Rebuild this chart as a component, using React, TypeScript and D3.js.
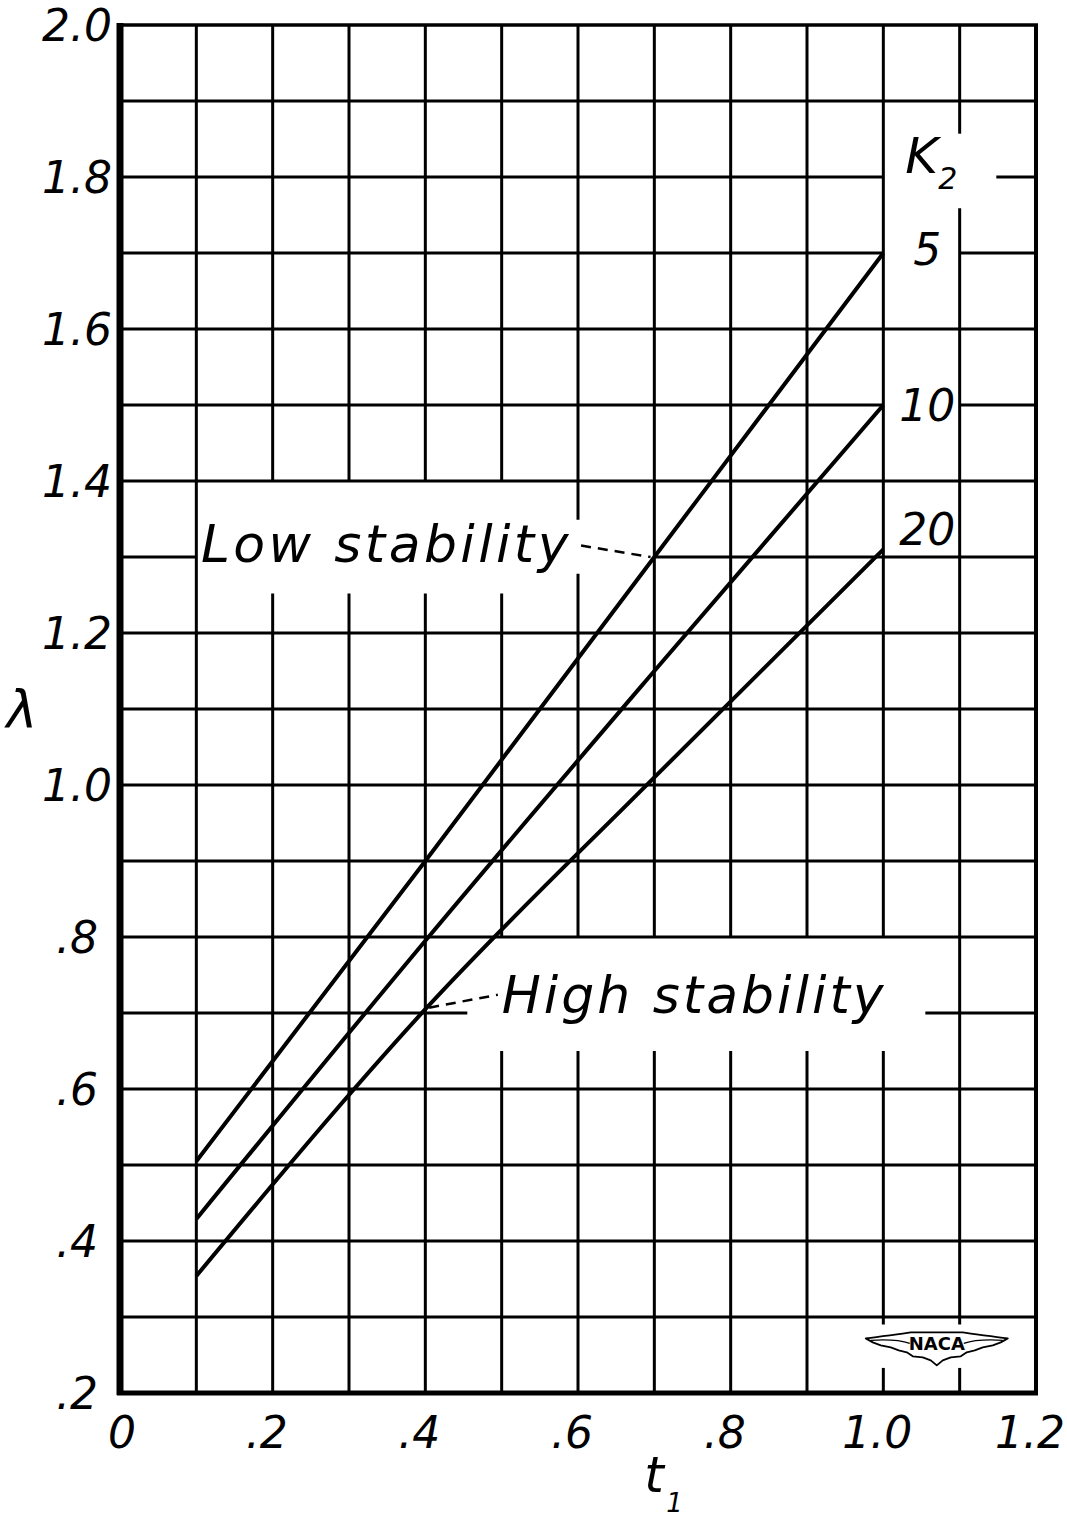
import { useEffect, useRef } from 'react'
import * as d3 from 'd3'

// ── values ───────────────────────────────────────────────────────────────────
const T1        = [0.1, 0.4, 0.7, 1.0]
const LAM_K5    = [0.505, 0.90, 1.30, 1.70]
const LAM_K10   = [0.429, 0.795, 1.15, 1.50]
const LAM_K20   = [0.354, 0.705, 1.01, 1.31]
const K2_VALUES = ['5', '10', '20']

const X_TICKS  = [0, 0.2, 0.4, 0.6, 0.8, 1.0, 1.2]
const X_LABELS = ['0', '.2', '.4', '.6', '.8', '1.0', '1.2']
const Y_TICKS  = [0.2, 0.4, 0.6, 0.8, 1.0, 1.2, 1.4, 1.6, 1.8, 2.0]
const Y_LABELS = ['.2', '.4', '.6', '.8', '1.0', '1.2', '1.4', '1.6', '1.8', '2.0']

// ── layout ───────────────────────────────────────────────────────────────────
const W = 1067
const H = 1522
const INK  = '#000'
const FONT = '"DejaVu Sans", "Liberation Sans", sans-serif'
const LABEL_NUDGE = [-4, 0, -20]   // K2 value labels, px off the line end

// breaks in the grid where lettering sits (data units)
const V_GAPS = [
  { at: [0.2, 0.3, 0.4, 0.5], from: 1.252, to: 1.4 },
  { at: [0.6], from: 1.278, to: 1.349 },
  { at: [0.5, 0.6, 0.7, 0.8, 0.9, 1.0], from: 0.65, to: 0.8 },
  { at: [1.1], from: 1.759, to: 1.857 },
  { at: [1.0, 1.1], from: 0.233, to: 0.29 },
]
const H_GAPS = [
  { at: [1.3], from: 0.1, to: 0.7 },
  { at: [0.7], from: 0.455, to: 1.055 },
  { at: [1.8], from: 1.0, to: 1.148 },
  { at: [1.7, 1.5], from: 1.0, to: 1.1 },
]

type Gap = { at: number[]; from: number; to: number }

function pieces(lo: number, hi: number, gaps: Gap[], v: number): [number, number][] {
  const hits = gaps
    .filter(g => g.at.some(a => Math.abs(a - v) < 1e-6))
    .sort((a, b) => a.from - b.from)
  const out: [number, number][] = []
  let cur = lo
  hits.forEach(g => {
    if (g.from > cur) out.push([cur, g.from])
    cur = Math.max(cur, g.to)
  })
  if (cur < hi) out.push([cur, hi])
  return out
}

export default function App() {
  const ref = useRef<SVGSVGElement>(null)

  useEffect(() => {
    if (!ref.current) return
    const svg = d3.select(ref.current)
    svg.selectAll('*').remove()

    const x = d3.scaleLinear().domain([0, 1.2]).range([120, 1036])
    const y = d3.scaleLinear().domain([0.2, 2.0]).range([1393, 25])

    svg.append('rect').attr('width', W).attr('height', H).attr('fill', '#fff')
    const g = svg.append('g')

    // ── grid ──────────────────────────────────────────────────────────────
    const gridX = d3.range(1, 12).map(i => i / 10)
    const gridY = d3.range(3, 20).map(i => i / 10)

    gridX.forEach(v => {
      pieces(0.2, 2.0, V_GAPS, v).forEach(([a, b]) => {
        g.append('line')
          .attr('x1', x(v)).attr('x2', x(v)).attr('y1', y(a)).attr('y2', y(b))
          .attr('stroke', INK).attr('stroke-width', 3)
      })
    })
    gridY.forEach(v => {
      pieces(0, 1.2, H_GAPS, v).forEach(([a, b]) => {
        g.append('line')
          .attr('x1', x(a)).attr('x2', x(b)).attr('y1', y(v)).attr('y2', y(v))
          .attr('stroke', INK).attr('stroke-width', 3)
      })
    })

    // ── frame (left & bottom heavier) ─────────────────────────────────────
    g.append('line').attr('x1', x(0) - 2).attr('x2', x(1.2) + 2).attr('y1', y(2)).attr('y2', y(2))
      .attr('stroke', INK).attr('stroke-width', 3.5)
    g.append('line').attr('x1', x(1.2)).attr('x2', x(1.2)).attr('y1', y(2)).attr('y2', y(0.2))
      .attr('stroke', INK).attr('stroke-width', 4)
    g.append('line').attr('x1', x(0) - 3).attr('x2', x(1.2) + 2).attr('y1', y(0.2)).attr('y2', y(0.2))
      .attr('stroke', INK).attr('stroke-width', 5)
    g.append('line').attr('x1', x(0)).attr('x2', x(0)).attr('y1', y(2) - 2).attr('y2', y(0.2) + 2)
      .attr('stroke', INK).attr('stroke-width', 7)

    // ── curves ────────────────────────────────────────────────────────────
    const line = d3.line<number>()
      .x((_, i) => x(T1[i]))
      .y(d => y(d))
      .curve(d3.curveMonotoneX)

    const series = [LAM_K5, LAM_K10, LAM_K20]
    series.forEach((vals, i) => {
      g.append('path').datum(vals)
        .attr('d', line(vals) ?? '')
        .attr('fill', 'none').attr('stroke', INK).attr('stroke-width', 4)
        .attr('stroke-linejoin', 'round')
      g.append('text')
        .attr('x', x(1.0) + 44).attr('y', y(vals[vals.length - 1]) + LABEL_NUDGE[i] + 16)
        .attr('text-anchor', 'middle')
        .attr('font-family', FONT).attr('font-style', 'italic').attr('font-size', 44)
        .attr('fill', INK)
        .text(K2_VALUES[i])
    })

    // K2 heading
    g.append('text')
      .attr('x', x(1.0) + 22).attr('y', y(1.8) - 4)
      .attr('font-family', FONT).attr('font-style', 'italic').attr('font-size', 50)
      .attr('fill', INK).text('K')
    g.append('text')
      .attr('x', x(1.0) + 55).attr('y', y(1.8) + 12)
      .attr('font-family', FONT).attr('font-style', 'italic').attr('font-size', 30)
      .attr('fill', INK).text('2')

    // ── annotations ───────────────────────────────────────────────────────
    g.append('text')
      .attr('x', x(0.106)).attr('y', y(1.293))
      .attr('font-family', FONT).attr('font-style', 'italic').attr('font-size', 52)
      .attr('letter-spacing', 3.4).attr('fill', INK)
      .text('Low stability')
    g.append('line')
      .attr('x1', x(0.604)).attr('y1', y(1.315)).attr('x2', x(0.695)).attr('y2', y(1.30))
      .attr('stroke', INK).attr('stroke-width', 2.5).attr('stroke-dasharray', '10,7')

    g.append('text')
      .attr('x', x(0.5)).attr('y', y(0.7))
      .attr('font-family', FONT).attr('font-style', 'italic').attr('font-size', 52)
      .attr('letter-spacing', 3).attr('fill', INK)
      .text('High stability')
    g.append('line')
      .attr('x1', x(0.405)).attr('y1', y(0.707)).attr('x2', x(0.495)).attr('y2', y(0.724))
      .attr('stroke', INK).attr('stroke-width', 2.5).attr('stroke-dasharray', '10,7')

    // ── tick labels ───────────────────────────────────────────────────────
    X_TICKS.forEach((v, i) => {
      g.append('text')
        .attr('x', x(v) + (i === 0 ? 2 : -6)).attr('y', 1448)
        .attr('text-anchor', 'middle')
        .attr('font-family', FONT).attr('font-style', 'italic').attr('font-size', 44)
        .attr('fill', INK).text(X_LABELS[i])
    })
    Y_TICKS.forEach((v, i) => {
      g.append('text')
        .attr('x', 77).attr('y', y(v) + 16)
        .attr('text-anchor', 'middle')
        .attr('font-family', FONT).attr('font-style', 'italic').attr('font-size', 44)
        .attr('fill', INK).text(Y_LABELS[i])
    })

    // axis titles
    g.append('text')
      .attr('x', 22).attr('y', y(1.1) + 18)
      .attr('text-anchor', 'middle')
      .attr('font-family', FONT).attr('font-style', 'italic').attr('font-size', 52)
      .attr('fill', INK).text('λ')
    g.append('text')
      .attr('x', x(0.705) - 4).attr('y', 1492)
      .attr('text-anchor', 'middle')
      .attr('font-family', FONT).attr('font-style', 'italic').attr('font-size', 50)
      .attr('fill', INK).text('t')
    g.append('text')
      .attr('x', x(0.705) + 8).attr('y', 1512)
      .attr('font-family', FONT).attr('font-style', 'italic').attr('font-size', 26)
      .attr('fill', INK).text('1')

    // ── NACA wing badge ───────────────────────────────────────────────────
    const logo = g.append('g').attr('transform', `translate(${x(1.07)},${y(0.264)})`)
    logo.append('path')
      .attr('d', 'M-71,-6 C-50,-9 -36,-10 -26,-12 L26,-12 C36,-10 50,-9 71,-6 L64,-2 L56,1 L46,3 L38,6 L30,8 L24,12 L14,13 L6,16 L0,21 L-6,16 L-14,13 L-24,12 L-30,8 L-38,6 L-46,3 L-56,1 L-64,-2 Z')
      .attr('fill', '#fff').attr('stroke', INK).attr('stroke-width', 1.8).attr('stroke-linejoin', 'round')
    logo.append('path')
      .attr('d', 'M-66,-4 C-50,-5 -36,-4 -27,-1 M66,-4 C50,-5 36,-4 27,-1')
      .attr('fill', 'none').attr('stroke', INK).attr('stroke-width', 1.2)
    logo.append('text')
      .attr('x', 0).attr('y', 6)
      .attr('text-anchor', 'middle')
      .attr('font-family', FONT).attr('font-weight', 'bold').attr('font-size', 18)
      .attr('fill', INK).text('NACA')
  }, [])

  return (
    <div style={{ position: 'absolute', left: 0, top: 0, width: W, height: H, background: '#fff' }}>
      <svg ref={ref} width={W} height={H} viewBox={`0 0 ${W} ${H}`} style={{ display: 'block' }} />
    </div>
  )
}
